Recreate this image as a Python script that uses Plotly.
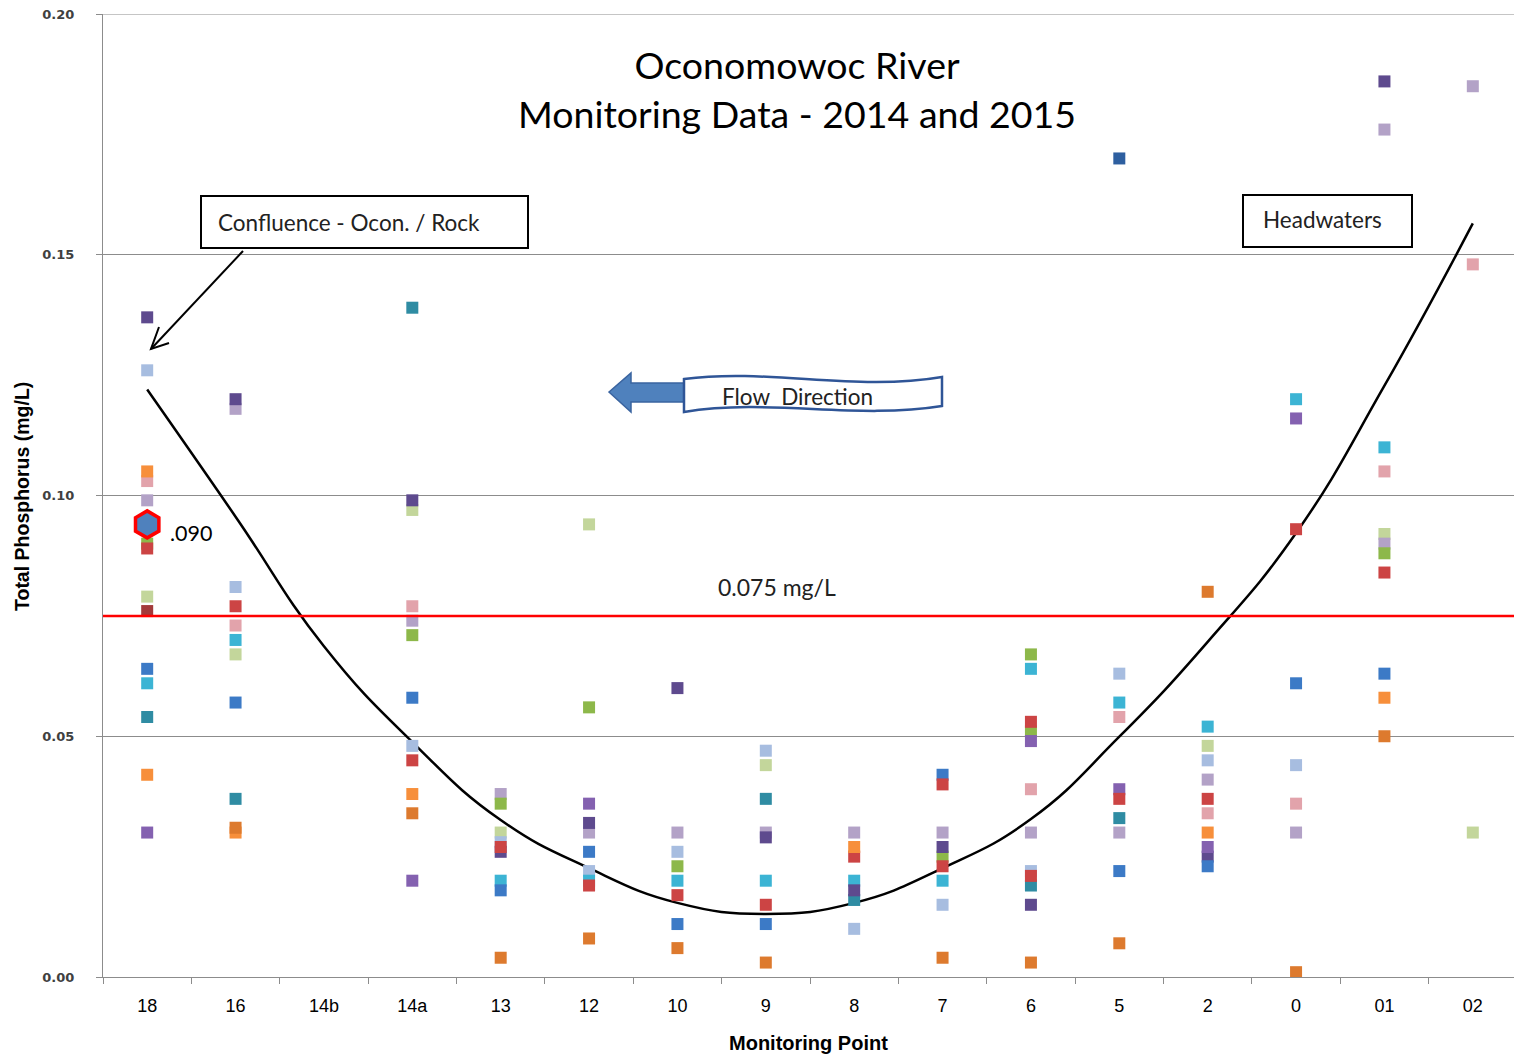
import plotly.graph_objects as go

# ---------------- data ----------------
categories = ["18", "16", "14b", "14a", "13", "12", "10", "9", "8", "7", "6", "5", "2", "0", "01", "02"]
N = None
orange   = [.105, .030, N, .038, N, N, N, N, .027, N, N, N, .030, N, .058, N]
orange_b = [.042, N, N, N, N, N, N, N, N, N, N, N, N, N, N, N]
dorange  = [N, .031, N, .034, .004, .008, .006, .003, N, .004, .003, .007, .080, .001, .050, N]
green    = [.090, N, N, .071, .036, .056, .023, N, N, .025, .067, N, N, N, .088, N]
green_b  = [N, N, N, N, N, N, N, N, N, N, .051, N, N, N, N, N]
red      = [.089, .077, N, .045, .027, .019, .017, .015, .025, .040, .053, .037, .037, .093, .084, N]
red_b    = [N, N, N, N, N, N, N, N, N, .023, .021, N, N, N, N, N]
dred     = [.076, N, N, N, N, N, N, N, N, N, N, N, N, N, N, N]
blue     = [.064, .057, N, .058, .018, .026, .011, .011, N, .042, N, .022, .023, .061, .063, N]
blue_b   = [N, N, N, N, N, N, N, N, N, N, N, .170, N, N, N, N]
lblue    = [.126, .081, N, .048, .028, .022, .026, .047, .010, .015, .022, .063, .045, .044, N, N]
lav      = [.099, .118, N, .074, .038, .030, .030, .030, .030, .030, .030, .030, .041, .030, .176, .185]
lav_b    = [N, N, N, N, N, N, N, N, N, N, N, N, N, N, .090, N]
dpurple  = [.137, .120, N, .099, .026, .032, .060, .029, .018, .027, .015, N, .025, N, .186, N]
purple   = [.030, N, N, .020, N, .036, N, N, N, N, .049, .039, .027, .116, N, N]
pink     = [.103, .073, N, .077, N, N, N, N, N, N, .039, .054, .034, .036, .105, .148]
lgreen   = [.079, .067, N, .097, .030, .094, N, .044, N, N, N, N, .048, N, .092, .030]
aqua     = [.061, .070, N, N, .020, .020, .020, .020, .020, .020, .064, .057, .052, .120, .110, N]
teal     = [.054, .037, N, .139, N, N, N, .037, .016, N, .019, .033, N, N, N, N]

highlight_cat = ["18"]
highlight_val = [0.094]

trend = [0.122, 0.0956, 0.0687, 0.0488, 0.0326, 0.0226, 0.0154, 0.0131,
         0.0154, 0.0226, 0.0328, 0.0499, 0.0696, 0.0922, 0.1228, 0.1565]

threshold = 0.075
y_ticks = [0.00, 0.05, 0.10, 0.15, 0.20]

# ---------------- styling ----------------
series = [
    ("lgreen", lgreen, "#C3D69B"),
    ("lav", lav, "#B3A2C7"),
    ("lav_b", lav_b, "#B3A2C7"),
    ("lblue", lblue, "#A7BDE0"),
    ("pink", pink, "#E2A3AB"),
    ("teal", teal, "#2F8CA3"),
    ("aqua", aqua, "#3CB4D4"),
    ("green", green, "#8DB84A"),
    ("green_b", green_b, "#8DB84A"),
    ("dpurple", dpurple, "#5E4A8E"),
    ("purple", purple, "#8461B0"),
    ("blue", blue, "#3C7AC6"),
    ("blue_b", blue_b, "#2E5FA0"),
    ("red", red, "#CC4444"),
    ("red_b", red_b, "#CC4444"),
    ("dred", dred, "#A33A3A"),
    ("orange", orange, "#F78F3B"),
    ("orange_b", orange_b, "#F78F3B"),
    ("dorange", dorange, "#DD7A2E"),
]

W, H = 1522, 1061
OFF = 8  # default page body margin
PL, PR, PT, PB = 103, 1517, 14, 977
GRID = "#8C8C8C"


def fx(px):
    return (px - PL) / (PR - PL)


def fy(py):
    return (PB - py) / (PB - PT)


fig = go.Figure()

fig.add_trace(go.Scatter(x=categories, y=trend, mode="lines",
                         line=dict(color="black", width=2.5, shape="spline", smoothing=1.3),
                         hoverinfo="skip", showlegend=False))

for name, vals, col in series:
    fig.add_trace(go.Scatter(x=categories, y=vals, mode="markers", name=name,
                             marker=dict(symbol="square", size=12, color=col,
                                         line=dict(width=0)),
                             showlegend=False))

fig.add_trace(go.Scatter(x=highlight_cat, y=highlight_val, mode="markers",
                         marker=dict(symbol="hexagon", size=27, color="#4F81BD",
                                     line=dict(color="#FF0000", width=3.5)),
                         showlegend=False))


def pth(points, close=False):
    s = "M " + " L ".join(f"{fx(a):.5f},{fy(b):.5f}" for a, b in points)
    return s + (" Z" if close else "")


shapes = []
# top gridline (range end)
shapes.append(dict(type="line", xref="paper", yref="y", x0=0, x1=1, y0=y_ticks[-1], y1=y_ticks[-1],
                   line=dict(color=GRID, width=1), layer="below"))
shapes.append(dict(type="line", xref="paper", yref="y", x0=0, x1=1, y0=threshold, y1=threshold,
                   line=dict(color="#FF0000", width=2.5), layer="above"))
shapes.append(dict(type="rect", xref="paper", yref="paper", x0=fx(201), x1=fx(528), y0=fy(196), y1=fy(248),
                   line=dict(color="black", width=2), fillcolor="white"))
shapes.append(dict(type="rect", xref="paper", yref="paper", x0=fx(1243), x1=fx(1412), y0=fy(195), y1=fy(247),
                   line=dict(color="black", width=2), fillcolor="white"))
shapes.append(dict(type="path", xref="paper", yref="paper", path=pth([(243, 251), (151, 349)]),
                   line=dict(color="black", width=2)))
shapes.append(dict(type="path", xref="paper", yref="paper", path=pth([(169, 343), (151, 349), (159, 327)]),
                   line=dict(color="black", width=2)))
shapes.append(dict(type="path", xref="paper", yref="paper",
                   path=pth([(609, 392), (631, 373), (631, 383), (690, 383), (690, 402), (631, 402), (631, 412)], True),
                   line=dict(color="#3A64A0", width=1.5), fillcolor="#4F81BD"))
p = (f"M {fx(684):.5f},{fy(379):.5f} C {fx(770):.5f},{fy(368):.5f} {fx(855):.5f},{fy(392):.5f} {fx(942):.5f},{fy(377):.5f} "
     f"L {fx(942):.5f},{fy(406):.5f} C {fx(855):.5f},{fy(420):.5f} {fx(770):.5f},{fy(398):.5f} {fx(684):.5f},{fy(412):.5f} Z")
shapes.append(dict(type="path", xref="paper", yref="paper", path=p,
                   line=dict(color="#2F5597", width=2.5), fillcolor="white"))

TF = "Lato, Carlito, Calibri, sans-serif"
NARROW = "Liberation Sans Narrow, Arial Narrow, Liberation Sans"


def ann(px, py, text, size, family=TF, color="#222", **kw):
    d = dict(x=fx(px), y=fy(py), xref="paper", yref="paper", text=text, showarrow=False,
             xanchor="center", yanchor="middle", font=dict(family=family, size=size, color=color))
    d.update(kw)
    return d


annotations = [
    ann(797, 89, "Oconomowoc River<br>Monitoring Data - 2014 and 2015", 37.5, color="black", align="center"),
    ann(349, 222, "Confluence - Ocon. / Rock", 22.5),
    ann(1322, 219, "Headwaters", 22.5),
    ann(797, 396, "Flow  Direction", 22.5),
    ann(777, 587, "0.075 mg/L", 23),
    ann(168, 533, ".090", 21.5, color="black", xanchor="left"),
    ann(22, 497, "<b>Total Phosphorus (mg/L)</b>", 19.5, family=NARROW, color="black", textangle=-90),
    ann(808, 1043, "<b>Monitoring Point</b>", 20, family=NARROW, color="black"),
]

fig.update_layout(
    width=W, height=H,
    margin=dict(l=PL - OFF, r=W - PR + OFF, t=PT - OFF, b=H - PB + OFF, autoexpand=False),
    paper_bgcolor="white", plot_bgcolor="white",
    shapes=shapes, annotations=annotations,
    showlegend=False,
    xaxis=dict(type="category", categoryorder="array", categoryarray=categories,
               range=[-0.5, 15.5], showgrid=False, zeroline=False, automargin=False,
               showline=True, linecolor=GRID, linewidth=1.2,
               ticks="outside", tickson="boundaries", ticklen=6, tickcolor=GRID,
               tickfont=dict(family=NARROW, size=18, color="black"),
               ticklabelstandoff=12),
    yaxis=dict(range=[0, 0.2], tickvals=y_ticks, ticktext=[f"{v:.2f}" for v in y_ticks],
               showgrid=True, gridcolor=GRID, gridwidth=1, zeroline=False, automargin=False,
               showline=True, linecolor=GRID, linewidth=1.2,
               ticks="outside", ticklen=6, tickcolor=GRID,
               ticklabeloverflow="allow",
               tickfont=dict(family="DejaVu Sans", size=13, color="#404040", weight="bold"),
               ticklabelstandoff=19),
)

fig.write_html("out.html")
